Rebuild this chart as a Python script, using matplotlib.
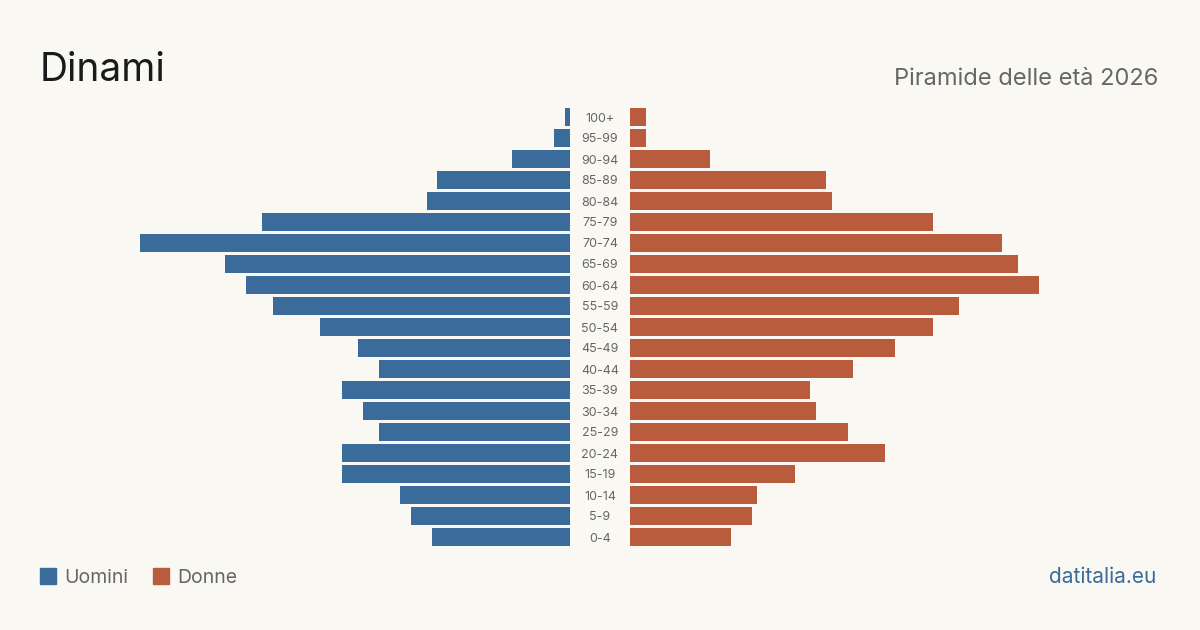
import matplotlib
matplotlib.use("Agg")
import matplotlib.pyplot as plt
from matplotlib.patches import Rectangle

age_groups = ["0-4", "5-9", "10-14", "15-19", "20-24", "25-29", "30-34", "35-39",
              "40-44", "45-49", "50-54", "55-59", "60-64", "65-69", "70-74", "75-79",
              "80-84", "85-89", "90-94", "95-99", "100+"]
men = [26, 30, 32, 43, 43, 36, 39, 43, 36, 40, 47, 56, 61, 65, 81, 58, 27, 25, 11, 3, 1]
women = [19, 23, 24, 31, 48, 41, 35, 34, 42, 50, 57, 62, 77, 73, 70, 57, 38, 37, 15, 3, 3]

BG = "#f9f8f3"
C_MEN = "#3b6b9b"
C_WOMEN = "#b95c3d"
GRAY = "#666666"
FONT = ["Inter", "DejaVu Sans"]

W, H = 1200, 630
fig = plt.figure(figsize=(W / 100, H / 100), dpi=100, facecolor=BG)

xmax = max(max(men), max(women))
y0, y1 = 106.5, 547.5
bottom = (H - y1) / H
height = (y1 - y0) / H

axL = fig.add_axes([140 / W, bottom, 430 / W, height])
axR = fig.add_axes([630 / W, bottom, 430 / W, height])
ypos = list(range(len(age_groups)))
axL.barh(ypos, men, height=0.81, color=C_MEN)
axR.barh(ypos, women, height=0.81, color=C_WOMEN)
axL.set_xlim(xmax, 0)
axR.set_xlim(0, xmax)
for ax in (axL, axR):
    ax.set_ylim(-0.5, len(age_groups) - 0.5)
    ax.axis("off")
    ax.set_facecolor("none")

for i, lab in enumerate(age_groups):
    yfig = (H - (538.5 - 21 * i)) / H
    fig.text(600 / W, yfig, lab, ha="center", va="center", fontsize=9,
             color=GRAY, family=FONT)

fig.text(40 / W, (H - 81) / H, "Dinami", fontsize=28, color="#1a1a1a",
         family=FONT, va="baseline", ha="left")
fig.text(1158 / W, (H - 85) / H, "Piramide delle età 2026", fontsize=17,
         color=GRAY, family=FONT, va="baseline", ha="right")

# legend
for x, c, lab in [(40, C_MEN, "Uomini"), (153, C_WOMEN, "Donne")]:
    fig.patches.append(Rectangle((x / W, (H - 584) / H), 16 / W, 16 / H,
                                 transform=fig.transFigure, color=c))
    fig.text((x + 24) / W, (H - 583) / H, lab, fontsize=14, color=GRAY,
             family=FONT, va="baseline", ha="left")

fig.text(1156 / W, (H - 583) / H, "datitalia.eu", fontsize=15, color=C_MEN,
         family=FONT, va="baseline", ha="right")

fig.savefig("out.png", dpi=100, facecolor=BG)
